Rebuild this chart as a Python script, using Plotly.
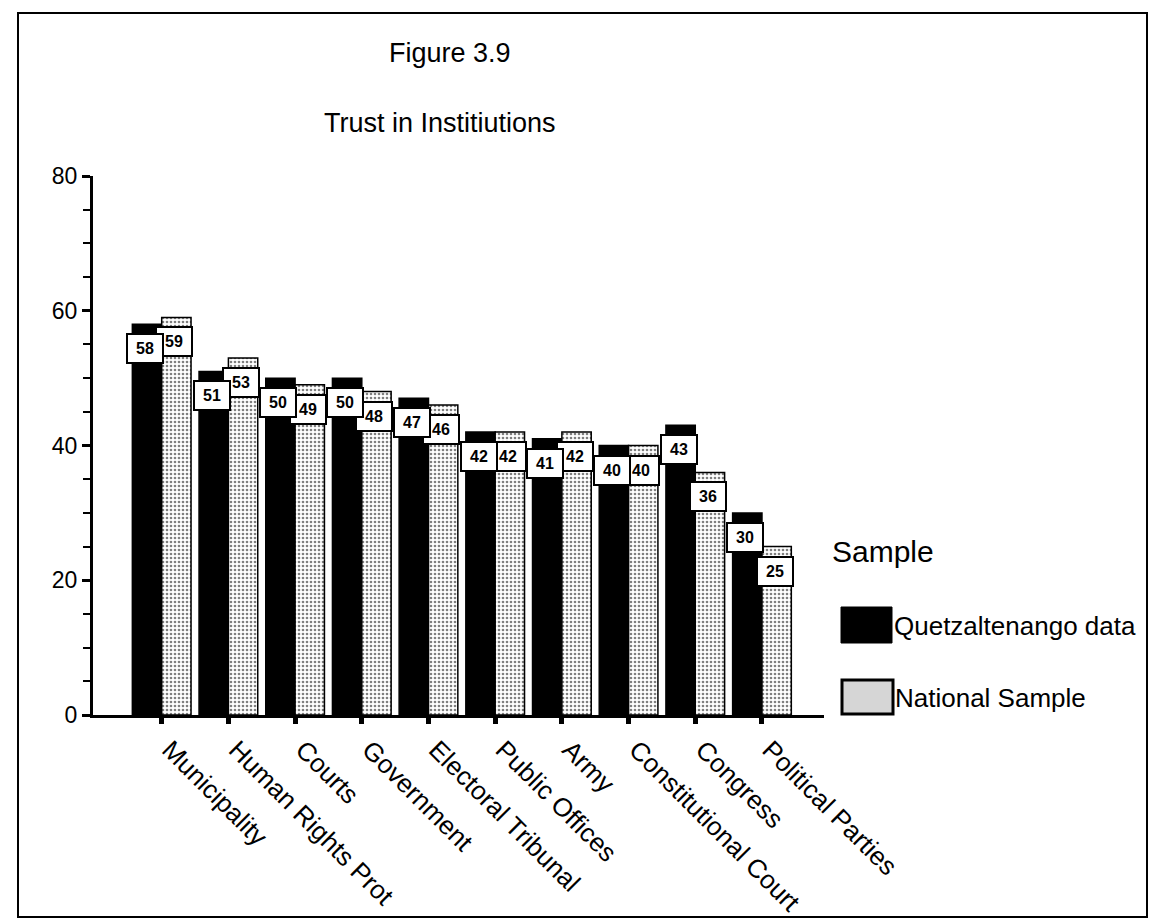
import plotly.graph_objects as go

# Trust in institutions data
institutions = ['Municipality', 'Human Rights Prot', 'Courts', 'Government',
                'Electoral Tribunal', 'Public Offices', 'Army',
                'Constitutional Court', 'Congress', 'Political Parties']
quetzaltenango = [58, 51, 50, 50, 47, 42, 41, 40, 43, 30]
national = [59, 53, 49, 48, 46, 42, 42, 40, 36, 25]
y_ticks = [0, 20, 40, 60, 80]

FONT = 'Liberation Sans, Arial, Helvetica, sans-serif'

# plot area geometry (pixels)
L, R, T, B = 93, 325, 176, 207
W, H = 1149, 922
pw, ph = W - L - R, H - T - B

def px(x):
    return (x - L) / pw

def py(y):
    return (H - B - y) / ph

fig = go.Figure()

fig.add_trace(go.Bar(
    x=institutions, y=quetzaltenango, name='Quetzaltenango data',
    marker=dict(color='black', line=dict(color='black', width=1.5)),
))
fig.add_trace(go.Bar(
    x=institutions, y=national, name='National Sample',
    marker=dict(color='white', line=dict(color='black', width=1.5),
                pattern=dict(shape='.', fgcolor='black', bgcolor='white',
                             size=4, solidity=0.35)),
))

# value labels: national first so Quetzaltenango boxes sit on top
x_range = [-1.03, 9.93]
unit = pw / (x_range[1] - x_range[0])
bargap = 0.12
offset = (1 - bargap) / 4 * unit

annotations = []
for vals, shift in [(national, offset), (quetzaltenango, -offset)]:
    for name, v in zip(institutions, vals):
        annotations.append(dict(
            x=name, y=v, xref='x', yref='y', text=f'<b>{v}</b>',
            showarrow=False, xanchor='center', yanchor='top',
            xshift=shift - 2, yshift=-9, width=32, height=25,
            bgcolor='white', bordercolor='black', borderwidth=2, borderpad=1,
            font=dict(family=FONT, size=16, color='black'),
        ))

# titles
annotations.append(dict(x=px(387), y=py(53), xref='paper', yref='paper',
                        text='Figure 3.9', showarrow=False, xanchor='left',
                        yanchor='middle', font=dict(family=FONT, size=27, color='black')))
annotations.append(dict(x=px(322), y=py(123), xref='paper', yref='paper',
                        text='Trust in Institiutions', showarrow=False, xanchor='left',
                        yanchor='middle', font=dict(family=FONT, size=27, color='black')))

# manual legend
annotations.append(dict(x=px(830), y=py(551), xref='paper', yref='paper',
                        text='Sample', showarrow=False, xanchor='left',
                        yanchor='middle', font=dict(family=FONT, size=30, color='black')))
annotations.append(dict(x=px(892), y=py(626), xref='paper', yref='paper',
                        text='Quetzaltenango data', showarrow=False, xanchor='left',
                        yanchor='middle', font=dict(family=FONT, size=26, color='black')))
annotations.append(dict(x=px(893), y=py(698), xref='paper', yref='paper',
                        text='National Sample', showarrow=False, xanchor='left',
                        yanchor='middle', font=dict(family=FONT, size=26, color='black')))

shapes = [
    dict(type='rect', xref='paper', yref='paper', x0=px(841), x1=px(892),
         y0=py(643), y1=py(607), fillcolor='black', line=dict(color='black', width=1)),
    dict(type='rect', xref='paper', yref='paper', x0=px(842), x1=px(893),
         y0=py(714), y1=py(680), fillcolor='#d6d6d6', line=dict(color='black', width=3)),
    # outer frame
    dict(type='rect', xref='paper', yref='paper', x0=px(18), x1=px(1147),
         y0=py(917), y1=py(13), line=dict(color='black', width=2)),
]

fig.update_layout(
    width=W, height=H,
    margin=dict(l=L, r=R, t=T, b=B, autoexpand=False),
    barmode='group', bargap=bargap, bargroupgap=0,
    plot_bgcolor='white', paper_bgcolor='white',
    showlegend=False,
    annotations=annotations, shapes=shapes,
    font=dict(family=FONT, color='black'),
)

fig.update_xaxes(
    range=x_range, showline=True, linecolor='black', linewidth=3,
    ticks='outside', ticklen=6, tickwidth=5, tickcolor='black',
    tickangle=45, tickfont=dict(family=FONT, size=26, color='black'),
    ticklabelshift=8,
    showgrid=False, zeroline=False,
)
fig.update_yaxes(
    range=[0, 80], tickvals=y_ticks, showline=True, linecolor='black', linewidth=3,
    ticks='outside', ticklen=8, tickwidth=3, tickcolor='black',
    minor=dict(dtick=5, ticks='outside', ticklen=7, tickwidth=2, tickcolor='black'),
    tickfont=dict(family=FONT, size=23, color='black'),
    showgrid=False, zeroline=False,
)

# drop the default page margin so the figure fills the window exactly
fig.write_html('out.html', config={'displayModeBar': False},
               post_script="document.body.style.margin='0';")
